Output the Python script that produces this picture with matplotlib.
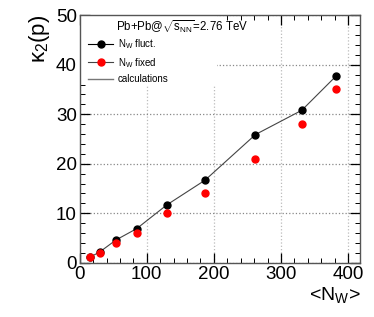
import matplotlib
matplotlib.use("Agg")
import matplotlib.pyplot as plt
from matplotlib.lines import Line2D
from matplotlib.patches import Rectangle
from matplotlib.ticker import MultipleLocator

plt.rcParams['font.family'] = ['Liberation Sans', 'DejaVu Sans']
plt.rcParams['mathtext.fontset'] = 'custom'
plt.rcParams['mathtext.rm'] = 'Liberation Sans'
plt.rcParams['mathtext.it'] = 'Liberation Sans'

# data
n_w = [15, 30, 54, 85, 130, 187, 262, 331, 382]
kappa_fluct = [1.1, 2.2, 4.6, 6.9, 11.7, 16.7, 25.9, 30.8, 37.7]
kappa_fixed = [1.1, 2.0, 4.0, 6.0, 10.0, 14.0, 21.0, 28.0, 35.0]

fig = plt.figure(figsize=(3.74, 3.17), dpi=100)
ax = fig.add_axes([0.213, 0.171, 0.75, 0.781])

ax.set_xlim(0, 418)
ax.set_ylim(0, 50)

# grid (ROOT style dotted), hidden behind the legend box
ax.set_axisbelow(True)
ax.grid(True, axis='x', linestyle=':', color='#bbbbbb', linewidth=0.9)
ax.grid(True, axis='y', linestyle=':', color='#888888', linewidth=0.9)
ax.add_patch(Rectangle((0, 36), 205, 14, facecolor='white', edgecolor='none', zorder=0.8))

# calculation line, then points
ax.plot(n_w, kappa_fluct, color='#444444', linewidth=0.8, zorder=2)
ax.plot(n_w, kappa_fluct, 'o', color='black', markersize=5, zorder=3)
ax.plot(n_w, kappa_fixed, 'o', color='red', markersize=5, zorder=4)

ax.xaxis.set_major_locator(MultipleLocator(100))
ax.xaxis.set_minor_locator(MultipleLocator(20))
ax.yaxis.set_major_locator(MultipleLocator(10))
ax.yaxis.set_minor_locator(MultipleLocator(2))
ax.tick_params(which='both', direction='in', top=True, right=True, labelsize=13.5, pad=2)
ax.tick_params(which='major', length=7, width=0.9)
ax.tick_params(which='minor', length=3.5, width=0.7)
for s in ax.spines.values():
    s.set_color('#555555')
    s.set_linewidth(1.0)

ax.set_ylabel(r'$\kappa_2$(p)', fontsize=16, loc='top', labelpad=3)
ax.set_xlabel(r'<N$_{W}$>', fontsize=14, loc='right', labelpad=2)

ax.text(0.13, 0.953, r'Pb+Pb@$\sqrt{s_{NN}}$=2.76 TeV', transform=ax.transAxes,
        fontsize=8.3, va='center', ha='left')

handles = [
    Line2D([], [], color='black', linewidth=0.8, marker='o', markersize=5),
    Line2D([], [], color='#444444', linewidth=0.8, marker='o', markersize=5,
           markerfacecolor='red', markeredgecolor='red'),
    Line2D([], [], color='#777777', linewidth=1.0),
]
labels = [r'N$_{W}$ fluct.', r'N$_{W}$ fixed', 'calculations']
ax.legend(handles, labels, loc='upper left', bbox_to_anchor=(0.0, 0.945),
          frameon=False, fontsize=7, handlelength=2.5, labelspacing=0.45,
          handletextpad=0.5)

fig.savefig('out.png', dpi=100)
